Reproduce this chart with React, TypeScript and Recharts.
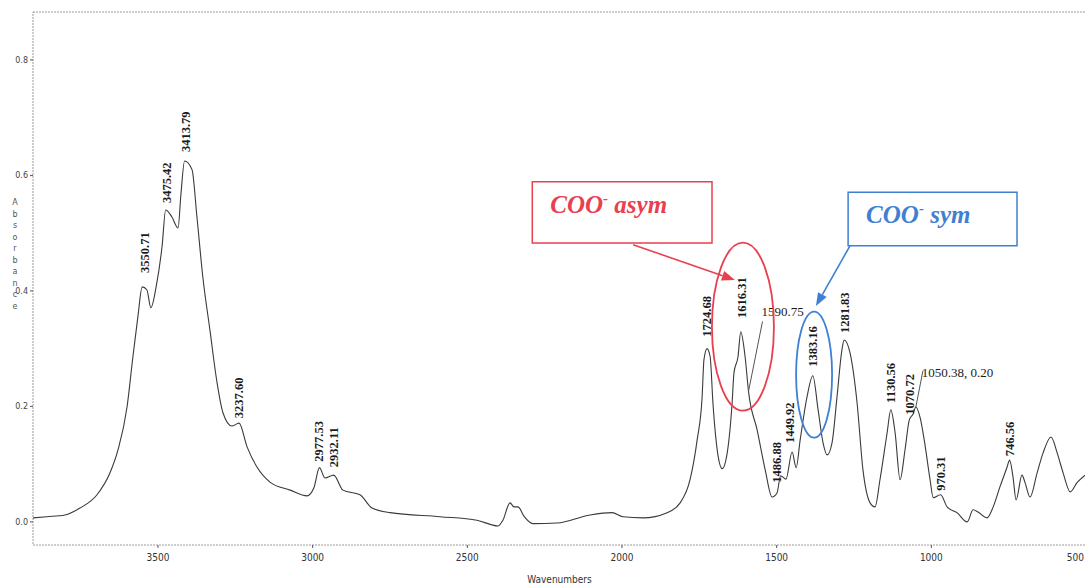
import { LineChart, Line, XAxis, YAxis, ReferenceArea, ReferenceDot, ReferenceLine } from 'recharts';

// spectrum (cm-1 / absorbance)
const wavenumbers = [
  3904, 3859, 3801, 3752, 3697, 3655, 3629, 3600, 3581, 3565, 3551, 3536, 3523, 3506, 3487, 3475,
  3455, 3435, 3426, 3414, 3390, 3374, 3355, 3332, 3309, 3290, 3261, 3238, 3212, 3180, 3138, 3073,
  3018, 2996, 2978, 2960, 2932, 2902, 2847, 2808, 2750, 2588, 2469, 2401, 2385, 2362, 2349, 2336,
  2317, 2288, 2210, 2103, 2032, 1997, 1932, 1854, 1812, 1780, 1757, 1741, 1735, 1725, 1715, 1706,
  1689, 1676, 1660, 1644, 1638, 1625, 1616, 1602, 1591, 1563, 1537, 1515, 1499, 1487, 1470, 1450,
  1437, 1424, 1402, 1383, 1366, 1350, 1337, 1321, 1305, 1289, 1282, 1263, 1240, 1221, 1198, 1182,
  1166, 1143, 1131, 1117, 1101, 1085, 1071, 1059, 1050, 1036, 1023, 1004, 994, 970, 949, 917,
  884, 865, 849, 820, 800, 778, 755, 747, 736, 726, 707, 697, 681, 658, 639, 613,
  593, 574, 551, 529, 503,
];
const absorbance = [
  0.007, 0.009, 0.012, 0.024, 0.047, 0.085, 0.125, 0.199, 0.286, 0.355, 0.407, 0.402, 0.371, 0.407, 0.476, 0.540,
  0.528, 0.509, 0.566, 0.625, 0.610, 0.528, 0.424, 0.332, 0.241, 0.189, 0.166, 0.171, 0.130, 0.095, 0.069, 0.055,
  0.045, 0.059, 0.094, 0.076, 0.081, 0.055, 0.047, 0.024, 0.016, 0.009, 0.003, -0.007, 0.003, 0.033, 0.026, 0.026,
  0.010, -0.003, -0.002, 0.012, 0.016, 0.009, 0.007, 0.016, 0.033, 0.073, 0.142, 0.216, 0.281, 0.300, 0.286, 0.206,
  0.113, 0.092, 0.119, 0.206, 0.258, 0.286, 0.329, 0.286, 0.226, 0.159, 0.090, 0.043, 0.050, 0.080, 0.074, 0.121,
  0.094, 0.142, 0.216, 0.253, 0.194, 0.137, 0.116, 0.137, 0.216, 0.298, 0.315, 0.293, 0.206, 0.090, 0.033, 0.026,
  0.073, 0.154, 0.194, 0.154, 0.073, 0.125, 0.177, 0.187, 0.199, 0.180, 0.142, 0.073, 0.042, 0.047, 0.026, 0.016,
  0.000, 0.021, 0.017, 0.007, 0.026, 0.061, 0.095, 0.107, 0.078, 0.038, 0.081, 0.068, 0.043, 0.085, 0.119, 0.147,
  0.119, 0.085, 0.052, 0.068, 0.081,
];

const xTicks = [3500, 3000, 2500, 2000, 1500, 1000, 500];
const yTicks = [0, 0.2, 0.4, 0.6, 0.8];

// rotated peak labels
const peakPositions = [3551, 3475, 3414, 3238, 2978, 2932, 1725, 1616, 1487, 1450, 1383, 1282, 1131, 1071, 970, 747];
const peakTexts = [
  '3550.71', '3475.42', '3413.79', '3237.60', '2977.53', '2932.11', '1724.68', '1616.31',
  '1486.88', '1449.92', '1383.16', '1281.83', '1130.56', '1070.72', '970.31', '746.56',
];
// labels drawn flat with a leader line
const leaderPositions = [1591, 1050];
const leaderTexts = ['1590.75', '1050.38, 0.20'];

// label placement tweaks (px): gap above peak, sideways shift
const peakGap = [14, 7, 9, 5, 6, 8, 12, 14, -7, 9, 9, 7, 7, 5, 4, 4];
const peakShift = [3, 1, 1, 0, 0, 0, 0, 1, -4, -2, 0, 1, 0, 1, 0, 0];

const RED = '#e8404f';
const BLUE = '#3f80d4';
const SERIF = '"Liberation Serif", "DejaVu Serif", serif';
const NARROW = '"Liberation Sans Narrow", "DejaVu Sans Condensed", "Liberation Sans", sans-serif';

const data = wavenumbers.map((w, i) => ({ w, a: absorbance[i] }));
const valueAt = (w: number) => absorbance[wavenumbers.indexOf(w)];

const arrowShape = (color: string) => (p: any) => {
  const { x1, y1, x2, y2 } = p;
  const ang = Math.atan2(y2 - y1, x2 - x1);
  const len = 13;
  const half = 5;
  const bx = x2 - len * Math.cos(ang);
  const by = y2 - len * Math.sin(ang);
  const nx = -Math.sin(ang) * half;
  const ny = Math.cos(ang) * half;
  return (
    <g>
      <line x1={x1} y1={y1} x2={bx} y2={by} stroke={color} strokeWidth={1.6} />
      <polygon points={`${x2},${y2} ${bx + nx},${by + ny} ${bx - nx},${by - ny}`} fill={color} />
    </g>
  );
};

const ellipseShape = (color: string, rx: number, ry: number) => (p: any) => (
  <ellipse cx={p.cx} cy={p.cy} rx={rx} ry={ry} fill="none" stroke={color} strokeWidth={1.8} />
);

const boxText = (color: string, tail: string) => (p: any) => {
  const { x, y } = p.viewBox;
  return (
    <text x={x + 18} y={y + 31} fill={color} fontFamily={SERIF} fontStyle="italic" fontWeight="bold" fontSize={25}>
      COO
      <tspan dy={-10} fontSize={15}>-</tspan>
      <tspan dy={10}>{' ' + tail}</tspan>
    </text>
  );
};

const absorbanceLabel = (p: any) => {
  const { x, y } = p.viewBox;
  const letters = 'Absorbance'.split('');
  return (
    <text x={x + 15} y={y + 193} textAnchor="middle" fontSize={8} fill="#555" fontFamily="DejaVu Sans, sans-serif">
      {letters.map((c, i) => (
        <tspan key={i} x={x + 15} dy={i === 0 ? 0 : 11.5}>
          {c}
        </tspan>
      ))}
    </text>
  );
};

// keep the last tick label inside the picture
const xTick = (p: any) => {
  const atEdge = p.x > 1070;
  return (
    <text
      x={atEdge ? 1084 : p.x}
      y={p.y}
      dy="0.71em"
      textAnchor={atEdge ? 'end' : 'middle'}
      fontSize={10}
      fill="#333"
      fontFamily={NARROW}
    >
      {p.payload.value}
    </text>
  );
};

export default function App() {
  return (
    <div style={{ position: 'absolute', left: 0, top: 0, width: 1085, height: 587, overflow: 'hidden', background: '#fff' }}>
      <LineChart width={1086} height={587} data={data} margin={{ top: 12, right: 0, bottom: 0, left: 0 }}>
        <XAxis
          dataKey="w"
          type="number"
          domain={[500, 3904]}
          reversed
          allowDataOverflow
          ticks={xTicks}
          axisLine={false}
          tickSize={3}
          tickMargin={6}
          tickLine={{ stroke: '#555' }}
          tick={xTick}
          height={42}
          label={{ value: 'Wavenumbers', position: 'insideBottom', offset: 4, fontSize: 10, fill: '#333', fontFamily: NARROW }}
        />
        <YAxis
          type="number"
          domain={[-0.04, 0.883]}
          allowDataOverflow
          ticks={yTicks}
          tickFormatter={(v: number) => v.toFixed(1)}
          axisLine={false}
          tickSize={3}
          tickMargin={2}
          tickLine={{ stroke: '#555' }}
          tick={{ fontSize: 8, fill: '#444', fontFamily: 'DejaVu Sans, sans-serif' }}
          width={33}
          label={{ content: absorbanceLabel }}
        />
        {/* dotted frame */}
        <ReferenceArea x1={3904} x2={500} y1={-0.04} y2={0.883} fill="none" stroke="#9a9a9a" strokeDasharray="2 1" ifOverflow="visible" />
        <Line
          dataKey="a"
          type="monotone"
          stroke="#3a3a3a"
          strokeWidth={1.1}
          dot={false}
          isAnimationActive={false}
        />
        {peakPositions.map((w, i) => (
          <ReferenceDot
            key={w}
            x={w}
            y={valueAt(w)}
            r={0}
            shape={(p: any) => {
              const x = p.cx + peakShift[i];
              const y = p.cy - peakGap[i];
              return (
                <text
                  x={x}
                  y={y}
                  transform={`rotate(-90 ${x} ${y})`}
                  textAnchor="start"
                  dominantBaseline="central"
                  fontFamily={SERIF}
                  fontWeight="bold"
                  fontSize={12.5}
                  fill="#1a1a1a"
                >
                  {peakTexts[i]}
                </text>
              );
            }}
          />
        ))}
        {leaderPositions.map((w, i) => (
          <ReferenceDot
            key={w}
            x={w}
            y={valueAt(w)}
            r={0}
            shape={(p: any) => {
              const ex = i === 0 ? 14 : 7;
              const ey = i === 0 ? -70 : -36;
              return (
                <g>
                  <line x1={p.cx} y1={p.cy} x2={p.cx + ex} y2={p.cy + ey} stroke="#555" strokeWidth={1} />
                  <text x={p.cx + ex - 1} y={p.cy + ey - 5 + (i === 0 ? 0 : 11)} fontFamily={SERIF} fontSize={13} fill="#1a1a1a">
                    {leaderTexts[i]}
                  </text>
                </g>
              );
            }}
          />
        ))}
        {/* COO- asym annotation */}
        <ReferenceArea x1={2290} x2={1709} y1={0.483} y2={0.589} fill="none" stroke={RED} strokeWidth={1.5} label={{ content: boxText(RED, 'asym') }} />
        <ReferenceLine segment={[{ x: 1964, y: 0.48 }, { x: 1635, y: 0.419 }]} shape={arrowShape(RED)} />
        <ReferenceDot x={1609} y={0.338} r={0} shape={ellipseShape(RED, 31, 84)} />
        {/* COO- sym annotation */}
        <ReferenceArea x1={1269} x2={723} y1={0.478} y2={0.571} fill="none" stroke={BLUE} strokeWidth={1.5} label={{ content: boxText(BLUE, 'sym') }} />
        <ReferenceLine segment={[{ x: 1263, y: 0.478 }, { x: 1373, y: 0.374 }]} shape={arrowShape(BLUE)} />
        <ReferenceDot x={1379} y={0.255} r={0} shape={ellipseShape(BLUE, 18, 63)} />
      </LineChart>
    </div>
  );
}
